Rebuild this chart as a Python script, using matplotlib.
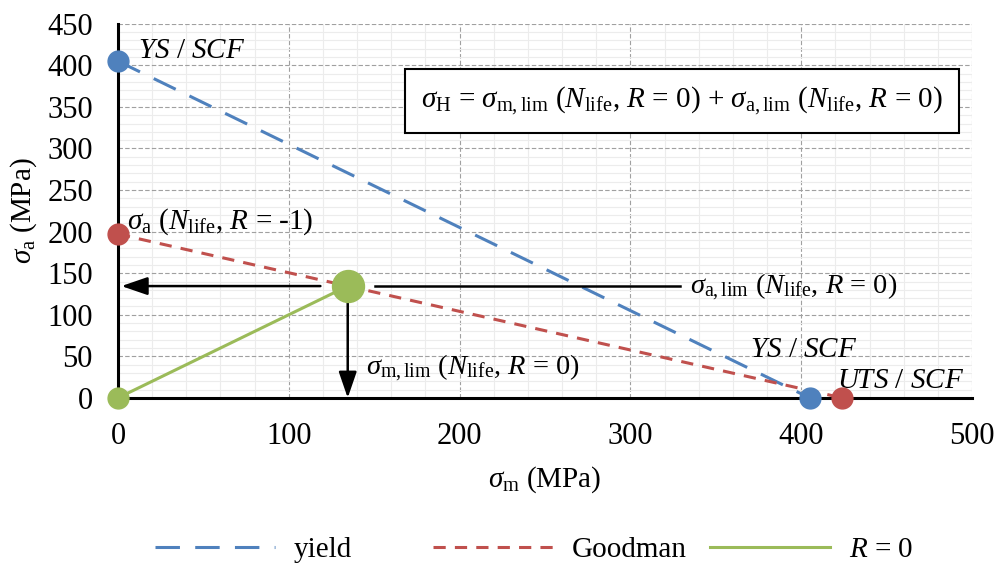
import numpy as np
import matplotlib.pyplot as plt
from matplotlib.ticker import MultipleLocator

plt.rcParams["font.family"] = ["Liberation Serif", "DejaVu Serif"]
plt.rcParams["mathtext.fontset"] = "custom"
plt.rcParams["mathtext.rm"] = "Liberation Serif"
plt.rcParams["mathtext.it"] = "Liberation Serif:italic"

# Data (MPa)
yield_sm = [0, 405]
yield_sa = [405, 0]
goodman_sm = [0, 424]
goodman_sa = [197, 0]
r0_sm = [0, 134.5]
r0_sa = [0, 134.5]

blue = "#4F81BD"
red = "#C0504D"
green = "#9BBB59"

fig = plt.figure(figsize=(10, 5.66), dpi=100)
ax = fig.add_axes([0.118, 0.297, 0.854, 0.661])

ax.plot(yield_sm, yield_sa, color=blue, lw=2.2, dashes=(8, 5), label="yield")
ax.plot(goodman_sm, goodman_sa, color=red, lw=2.2, dashes=(4, 3), label="Goodman")
ax.plot(r0_sm, r0_sa, color=green, lw=2.2, label="$R$ = 0")

ax.plot(yield_sm, yield_sa, "o", color=blue, ms=15, ls="none", clip_on=False, zorder=6)
ax.plot(goodman_sm, goodman_sa, "o", color=red, ms=15, ls="none", clip_on=False, zorder=6)
ax.plot(r0_sm[0], r0_sa[0], "o", color=green, ms=15, clip_on=False, zorder=6)
ax.plot(r0_sm[1], r0_sa[1], "o", color=green, ms=23, zorder=6)

# arrows from the R = 0 point
sx, sy = r0_sm[1], r0_sa[1]
arrow = dict(arrowstyle="-|>,head_length=1.6,head_width=0.55",
             color="black", lw=1.8, shrinkA=0, shrinkB=0)
ax.annotate("", xy=(2, sy), xytext=(sx - 16, sy), arrowprops=arrow)
ax.plot([sx + 16, 329], [sy, sy], color="black", lw=1.8)
ax.annotate("", xy=(sx, 0), xytext=(sx, sy - 15), arrowprops=arrow)

fs = 21
ax.text(12, 417, "$YS$ / $SCF$", fontsize=fs, va="center")
ax.text(5, 212, r"$\sigma_\mathrm{a}$ ($N_\mathrm{life}$, $R$ = -1)", fontsize=fs, va="center")
ax.text(335, 133, r"$\sigma_\mathrm{a,lim}$ ($N_\mathrm{life}$, $R$ = 0)", fontsize=20.5, va="center")
ax.text(145, 35, r"$\sigma_\mathrm{m,lim}$ ($N_\mathrm{life}$, $R$ = 0)", fontsize=20.5, va="center")
ax.text(370, 58, "$YS$ / $SCF$", fontsize=fs, va="center")
ax.text(421, 20, "$UTS$ / $SCF$", fontsize=fs, va="center")
ax.text(330, 357,
        r"$\sigma_\mathrm{H}$ = $\sigma_\mathrm{m,lim}$ ($N_\mathrm{life}$, $R$ = 0) + "
        r"$\sigma_\mathrm{a,lim}$ ($N_\mathrm{life}$, $R$ = 0)",
        fontsize=fs, ha="center", va="center",
        bbox=dict(boxstyle="square,pad=0.55", fc="white", ec="black", lw=1.5))

ax.set_xlim(0, 500)
ax.set_ylim(0, 450)
ax.xaxis.set_major_locator(MultipleLocator(100))
ax.yaxis.set_major_locator(MultipleLocator(50))
ax.xaxis.set_minor_locator(MultipleLocator(20))
ax.yaxis.set_minor_locator(MultipleLocator(10))
ax.grid(which="minor", color="#ececec", lw=0.8)
ax.grid(which="major", color="#a0a0a0", lw=0.8, ls=(0, (4, 2)))
ax.set_axisbelow(True)
for s in ["top", "right"]:
    ax.spines[s].set_visible(False)
for s in ["left", "bottom"]:
    ax.spines[s].set_linewidth(2.2)
ax.tick_params(which="both", length=0, labelsize=22)
ax.tick_params(axis="x", pad=17)
ax.tick_params(axis="y", pad=18)

ax.set_xlabel(r"$\sigma_\mathrm{m}$ (MPa)", fontsize=fs, labelpad=10)
ax.set_ylabel(r"$\sigma_\mathrm{a}$ (MPa)", fontsize=fs, labelpad=6)

# legend: equal-width columns, one legend per entry
handles, labels = ax.get_legend_handles_labels()
legend_x = [0.155, 0.433, 0.710]
for h, l, lx in zip(handles, labels, legend_x):
    fig.legend([h], [l], loc="center left", bbox_to_anchor=(lx, 0.028),
               frameon=False, fontsize=21, handlelength=4.1, handletextpad=0.65,
               borderpad=0, borderaxespad=0)

fig.savefig("out.png", dpi=100)
